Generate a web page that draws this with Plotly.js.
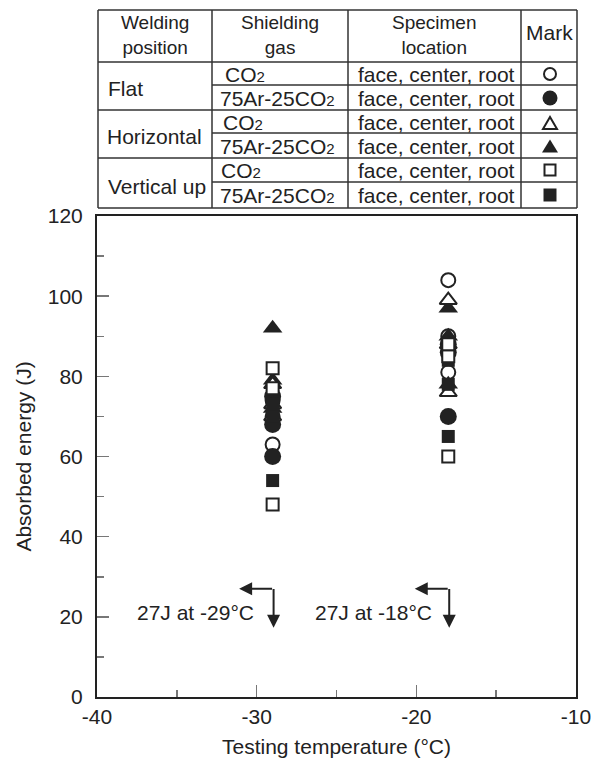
<!DOCTYPE html>
<html>
<head>
<meta charset="utf-8">
<script src="https://cdn.plot.ly/plotly-3.0.1.min.js"></script>
<style>html,body{margin:0;padding:0;background:#fff;}#chart{width:600px;height:761px;}</style>
</head>
<body>
<div id="chart"></div>
<script>
// ---- data ----
const temperatures = [-29, -29, -29, -18, -18, -18];
const flatCO2 = [63, 70, 74, 104, 90, 81];         // open circle
const flatArCO2 = [60, 68, 75, 70, 88, 86];        // filled circle
const horizCO2 = [70, 73, 78, 99, 76, 88];         // open triangle
const horizArCO2 = [92, 79, 72, 97, 90, 78];       // filled triangle
const vertCO2 = [82, 77, 48, 85, 60, 88];          // open square
const vertArCO2 = [54, 70, 73, 65, 78, 84];        // filled square

const xTickVals = [-40, -30, -20, -10];
const xTickText = ["-40", "-30", "-20", "-10"];
const yTickVals = [0, 20, 40, 60, 80, 100, 120];
const yTickText = ["0", "20", "40", "60", "80", "100", "120"];

const tableHeaders = ["Welding<br>position", "Shielding<br>gas", "Specimen<br>location", "Mark"];
const positions = ["Flat", "Horizontal", "Vertical up"];
const gases = ["CO2", "75Ar-25CO2", "CO2", "75Ar-25CO2", "CO2", "75Ar-25CO2"];
const locationText = "face, center, root";

// ---- geometry ----
const L = 97, R = 576, T = 216, B = 697;
const W = R - L, H = B - T;
const px = v => (v - L) / W;
const py = v => (B - v) / H;

const FONT = "Liberation Sans, Arial, Helvetica, sans-serif";
const INK = "#222";
const FS = 21;

function sub2(s) {
  return s.replace(/CO2/g, "CO<span style='font-size:15px'>2</span>");
}

const markerTraces = [
  {y: flatCO2, symbol: "circle", size: 14, name: "Flat CO2", fill: false},
  {y: flatArCO2, symbol: "circle", size: 17, name: "Flat 75Ar-25CO2", fill: true},
  {y: horizArCO2, symbol: "triangle-up", size: 17, name: "Horizontal 75Ar-25CO2", fill: true},
  {y: horizCO2, symbol: "triangle-up", size: 15, name: "Horizontal CO2", fill: false},
  {y: vertArCO2, symbol: "square", size: 13, name: "Vertical up 75Ar-25CO2", fill: true},
  {y: vertCO2, symbol: "square", size: 12, name: "Vertical up CO2", fill: false}
];

const data = markerTraces.map(t => ({
  type: "scatter",
  mode: "markers",
  x: temperatures,
  y: t.y,
  name: t.name,
  marker: {
    symbol: t.symbol,
    size: t.size,
    color: t.fill ? INK : "#fff",
    line: {color: INK, width: t.fill ? 0 : 2}
  },
  showlegend: false,
  hoverinfo: "x+y+name"
}));

// ---- table ----
const shapes = [];
const lineStyle = {color: "#333", width: 1.5};
const tL = 98, tR = 577, cGas = 212, cLoc = 348, cMark = 521;
const hY = [10, 62, 110, 158, 208];
hY.forEach(y => shapes.push({type: "line", xref: "paper", yref: "paper",
  x0: px(tL), x1: px(tR), y0: py(y), y1: py(y), line: lineStyle}));
[85, 133, 182].forEach(y => shapes.push({type: "line", xref: "paper", yref: "paper",
  x0: px(cGas), x1: px(tR), y0: py(y), y1: py(y), line: lineStyle}));
[tL, cGas, cLoc, cMark, tR].forEach(x => shapes.push({type: "line", xref: "paper", yref: "paper",
  x0: px(x), x1: px(x), y0: py(10), y1: py(208), line: lineStyle}));

const rowY = [74, 98, 122, 146, 170, 195];
const mx = 550;
function circ(cx, cy, r, filled) {
  return {type: "circle", xref: "paper", yref: "paper",
    x0: px(cx - r), x1: px(cx + r), y0: py(cy + r), y1: py(cy - r),
    fillcolor: filled ? INK : "rgba(0,0,0,0)", line: {color: INK, width: filled ? 0 : 2}};
}
function tri(cx, cy, w, h, filled) {
  const p = `M${px(cx - w / 2)},${py(cy + h / 2)} L${px(cx + w / 2)},${py(cy + h / 2)} L${px(cx)},${py(cy - h / 2)} Z`;
  return {type: "path", xref: "paper", yref: "paper", path: p,
    fillcolor: filled ? INK : "rgba(0,0,0,0)", line: {color: INK, width: filled ? 0 : 2}};
}
function sq(cx, cy, s, filled) {
  return {type: "rect", xref: "paper", yref: "paper",
    x0: px(cx - s / 2), x1: px(cx + s / 2), y0: py(cy + s / 2), y1: py(cy - s / 2),
    fillcolor: filled ? INK : "rgba(0,0,0,0)", line: {color: INK, width: filled ? 0 : 2}};
}
shapes.push(circ(mx, rowY[0], 6, false));
shapes.push(circ(mx, rowY[1], 7.5, true));
shapes.push(tri(mx, rowY[2] + 1, 14, 12, false));
shapes.push(tri(mx, rowY[3], 16, 13, true));
shapes.push(sq(mx, rowY[4], 11, false));
shapes.push(sq(mx, rowY[5], 13, true));

const annotations = [];
function txt(text, x, y, xanchor, size) {
  annotations.push({text: text, xref: "paper", yref: "paper", x: px(x), y: py(y),
    xanchor: xanchor || "center", yanchor: "middle", showarrow: false,
    font: {family: FONT, size: size || FS, color: INK}});
}
// headers
txt(tableHeaders[0], 155, 35, "center", 19);
txt(tableHeaders[1], 280, 35, "center", 19);
txt(tableHeaders[2], 434, 35, "center", 19);
txt(tableHeaders[3], 549, 33);
// welding positions
txt(positions[0], 106, 88, "left");
txt(positions[1], 105, 137, "left");
txt(positions[2], 106, 186, "left");
// gases
const gasX = [223, 218, 221, 218, 219, 218];
gases.forEach((g, i) => txt(sub2(g), gasX[i], rowY[i], "left"));
// locations
rowY.forEach(y => txt(locationText, 356, y, "left"));

// 27J annotations
const arrowStyle = {showarrow: true, arrowhead: 2, arrowsize: 1.3, arrowwidth: 2, arrowcolor: INK,
  xref: "x", yref: "y", axref: "x", ayref: "y", text: "", standoff: 0};
const criteria = [{t: -29, label: "27J at -29°C", lx: -33.8}, {t: -18, label: "27J at -18°C", lx: -22.66}];
criteria.forEach(c => {
  annotations.push(Object.assign({}, arrowStyle, {x: c.t - 2.1, y: 27, ax: c.t + 0.06, ay: 27}));
  annotations.push(Object.assign({}, arrowStyle, {x: c.t + 0.06, y: 17.3, ax: c.t + 0.06, ay: 27.3}));
  annotations.push({text: c.label, x: c.lx, y: 21, xref: "x", yref: "y", showarrow: false,
    xanchor: "center", yanchor: "middle", font: {family: FONT, size: FS, color: INK}});
});

const axisCommon = {
  showgrid: false, zeroline: false, showline: true, linecolor: INK, linewidth: 2, mirror: true,
  ticks: "inside", ticklen: 12, tickwidth: 1.5, tickcolor: "#777",
  tickfont: {family: FONT, size: FS, color: INK}
};

const layout = {
  width: 600, height: 761,
  margin: {l: L, r: 600 - R, t: T, b: 761 - B},
  paper_bgcolor: "#fff", plot_bgcolor: "#fff",
  xaxis: Object.assign({}, axisCommon, {
    range: [-40, -10], tickmode: "array", tickvals: xTickVals, ticktext: xTickText,
    minor: {tickmode: "linear", tick0: -40, dtick: 5, ticks: "inside", ticklen: 7, tickwidth: 1.5, tickcolor: "#777"},
    title: {text: "Testing temperature (°C)", font: {family: FONT, size: FS, color: INK}, standoff: 12}
  }),
  yaxis: Object.assign({}, axisCommon, {
    range: [0, 120], tickmode: "array", tickvals: yTickVals, ticktext: yTickText,
    ticklabelstandoff: 8,
    minor: {tickmode: "linear", tick0: 0, dtick: 10, ticks: "inside", ticklen: 7, tickwidth: 1.5, tickcolor: "#777"},
    title: {text: "Absorbed energy (J)", font: {family: FONT, size: FS, color: INK}, standoff: 10}
  }),
  shapes: shapes,
  annotations: annotations,
  showlegend: false
};

Plotly.newPlot("chart", data, layout, {displayModeBar: false, staticPlot: true});
</script>
</body>
</html>
